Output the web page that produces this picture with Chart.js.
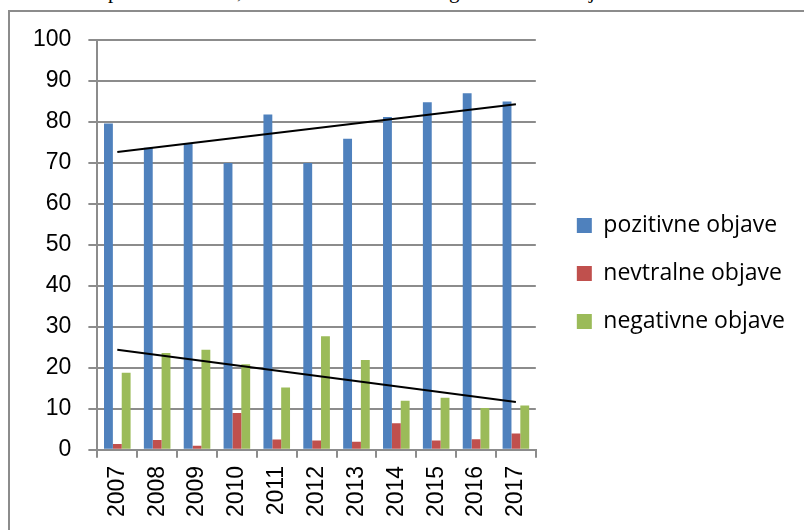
<!DOCTYPE html>
<html>
<head>
<meta charset="utf-8">
<script src="https://cdn.jsdelivr.net/npm/chart.js@4.4.0/dist/chart.umd.min.js"></script>
<style>
  body { margin: 0; background: #fff; width: 804px; height: 530px; overflow: hidden; position: relative; }
  #okvir { position: absolute; left: 8px; top: 10px; width: 900px; height: 600px;
           border-left: 2px solid #8c8c8c; border-top: 2px solid #8c8c8c; }
  #napis span { position: absolute; top: -21px; font: 21px "Liberation Serif", serif; color: #000; }
  #graf { position: absolute; left: 0; top: 0; }
</style>
</head>
<body>
<div id="napis"><span style="left:108px">p</span><span style="left:237px">,</span><span style="left:449px">g</span><span style="left:589px">j</span></div>
<div id="okvir"></div>
<canvas id="graf" width="804" height="530"></canvas>
<script>
// leta in objave
var leta = ["2007","2008","2009","2010","2011","2012","2013","2014","2015","2016","2017"];
var pozitivne = [79.6, 73.7, 74.7, 70, 81.8, 70, 75.9, 81.2, 84.8, 87, 85];
var nevtralne = [1.4, 2.4, 1.0, 9.0, 2.5, 2.3, 2.0, 6.5, 2.3, 2.6, 4.0];
var negativne = [18.8, 23.6, 24.4, 20.9, 15.2, 27.7, 21.9, 12.0, 12.7, 10.2, 10.8];

// trendne crte (zacetek in konec)
var trendLeta = ["2007","2017"];
var trendPoz = [72.7, 84.3];
var trendNeg = [24.4, 11.7];

var osY = [0,10,20,30,40,50,60,70,80,90,100];

function tocke(vrednosti){
    var t = [];
    for (var i = 0; i < trendLeta.length; i++) {
        t.push({x: trendLeta[i], y: vrednosti[i]});
    }
    return t;
}

var siva = "#8c8c8c";

// premakne legendo bolj desno in gor
var pomakLegende = {
    id: "pomakLegende",
    afterLayout: function(c){
        var l = c.legend;
        l.left += 16; l.right += 16;
        l.top -= 9; l.bottom -= 9;
    }
};

var ctx = document.getElementById("graf").getContext("2d");
var chart = new Chart(ctx, {
    type: "bar",
    data: {
        labels: leta,
        datasets: [
            {label: "pozitivne objave", data: pozitivne, backgroundColor: "#4F81BD"},
            {label: "nevtralne objave", data: nevtralne, backgroundColor: "#C0504D"},
            {label: "negativne objave", data: negativne, backgroundColor: "#9BBB59"},
            {type: "line", label: "trend1", data: tocke(trendPoz), borderColor: "#000", borderWidth: 2,
             pointRadius: 0, order: -1},
            {type: "line", label: "trend2", data: tocke(trendNeg), borderColor: "#000", borderWidth: 2,
             pointRadius: 0, order: -1}
        ]
    },
    options: {
        responsive: false,
        animation: false,
        layout: {padding: {left: 16, top: 40, right: 25, bottom: 5}},
        datasets: {bar: {categoryPercentage: 0.667, barPercentage: 1}},
        scales: {
            x: {
                grid: {display: true, drawOnChartArea: false, color: siva, lineWidth: 2, tickLength: 8},
                border: {display: true, color: siva, width: 2},
                ticks: {color: "#000", font: {family: "Liberation Sans", size: 23}, minRotation: 90, maxRotation: 90, padding: 8}
            },
            y: {
                min: 0, max: 100,
                afterBuildTicks: function(os){ os.ticks = osY.map(function(v){ return {value: v}; }); },
                grid: {color: siva, lineWidth: 2, tickLength: 9},
                border: {display: true, color: siva, width: 2},
                ticks: {color: "#000", font: {family: "Liberation Sans", size: 23}, padding: 17}
            }
        },
        plugins: {
            tooltip: {enabled: false},
            legend: {
                position: "right",
                maxWidth: 320,
                labels: {
                    color: "#000",
                    font: {family: "Open Sans", size: 23},
                    boxWidth: 15, boxHeight: 15, padding: 25,
                    filter: function(item){ return item.datasetIndex < 3; }
                }
            }
        }
    },
    plugins: [pomakLegende]
});
</script>
</body>
</html>
